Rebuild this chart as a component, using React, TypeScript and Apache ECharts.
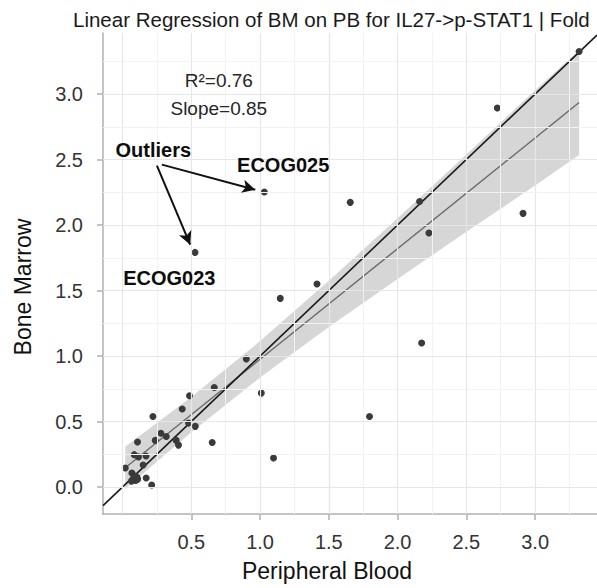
import React, { useEffect, useRef } from "react";
import * as echarts from "echarts";

const FONT = "'Liberation Sans', Arial, Helvetica, sans-serif";

// Axis bounds
const X_MIN = -0.142;
const X_MAX = 3.45;
const Y_MIN = -0.206;
const Y_MAX = 3.466;

// Data points (Peripheral Blood vs Bone Marrow)
const pbValues = [
  3.32, 2.725, 2.16, 2.228, 2.912, 1.656, 1.414, 2.175, 1.796, 1.031,
  0.527, 1.147, 0.9, 1.009, 1.098, 0.667, 0.652, 0.487, 0.434, 0.48,
  0.529, 0.407, 0.39, 0.318, 0.279, 0.238, 0.221, 0.109, 0.085, 0.116,
  0.171, 0.15, 0.02, 0.068, 0.172, 0.212, 0.075, 0.095, 0.105, 0.085,
  0.065, 0.11,
];
const bmValues = [
  3.325, 2.893, 2.18, 1.939, 2.089, 2.173, 1.55, 1.099, 0.539, 2.252,
  1.791, 1.44, 0.977, 0.717, 0.221, 0.76, 0.34, 0.697, 0.595, 0.488,
  0.463, 0.32, 0.356, 0.386, 0.41, 0.356, 0.539, 0.343, 0.247, 0.23,
  0.237, 0.168, 0.145, 0.107, 0.069, 0.015, 0.06, 0.05, 0.075, 0.085,
  0.045, 0.06,
];

// Regression fit line
const fitX = [0.02, 3.32];
const fitY = [0.147, 2.935];

// Identity line (y = x)
const identityX = [X_MIN, X_MAX];

// Confidence band
const bandX = [0.02, 0.5, 1.0, 1.5, 2.0, 2.5, 3.0, 3.32];
const bandLower = [-0.013, 0.418, 0.836, 1.222, 1.588, 1.948, 2.302, 2.535];
const bandUpper = [0.307, 0.688, 1.114, 1.574, 2.052, 2.538, 3.028, 3.335];

// Ticks & grid
const xTickValues = [0.5, 1.0, 1.5, 2.0, 2.5, 3.0];
const yTickValues = [0.0, 0.5, 1.0, 1.5, 2.0, 2.5, 3.0];
const xGridValues = [0, 0.25, 0.5, 0.75, 1, 1.25, 1.5, 1.75, 2, 2.25, 2.5, 2.75, 3, 3.25];
const yGridValues = [0, 0.25, 0.5, 0.75, 1, 1.25, 1.5, 1.75, 2, 2.25, 2.5, 2.75, 3, 3.25];

// Annotations
const statTexts = ["R²=0.76", "Slope=0.85"];
const statX = [0.7, 0.7];
const statY = [3.1, 2.89];
const calloutTexts = ["Outliers", "ECOG025", "ECOG023"];
const calloutX = [0.224, 1.168, 0.34];
const calloutY = [2.575, 2.457, 1.594];
const arrowFrom = [
  [0.286, 2.461],
  [0.25, 2.453],
];
const arrowTo = [
  [0.965, 2.27],
  [0.492, 1.85],
];

const TITLE = "Linear Regression of BM on PB for IL27->p-STAT1 | Fold";
const X_TITLE = "Peripheral Blood";
const Y_TITLE = "Bone Marrow";

export default function App() {
  const ref = useRef<HTMLDivElement>(null);

  useEffect(() => {
    if (!ref.current) return;
    const chart = echarts.init(ref.current, undefined, { renderer: "svg" });

    const isMajor = (v: number) => Math.abs(v * 2 - Math.round(v * 2)) < 1e-6;
    const gridLines: any[] = [
      ...xGridValues.map((v) => ({
        xAxis: v,
        lineStyle: { color: isMajor(v) ? "#e6e6e6" : "#f2f2f2", width: isMajor(v) ? 1.2 : 1, type: "solid" },
      })),
      ...yGridValues.map((v) => ({
        yAxis: v,
        lineStyle: { color: isMajor(v) ? "#e6e6e6" : "#f2f2f2", width: isMajor(v) ? 1.2 : 1, type: "solid" },
      })),
    ];

    const axisCommon = {
      type: "value" as const,
      axisLine: { show: true, onZero: false, lineStyle: { color: "#b0b0b0", width: 1.5 } },
      axisTick: { show: true, length: 6, lineStyle: { color: "#b0b0b0", width: 1.5 } },
      splitLine: { show: false },
    };

    const option: any = {
      animation: false,
      backgroundColor: "#ffffff",
      title: {
        text: TITLE,
        left: 68,
        top: 4,
        textStyle: { fontFamily: FONT, fontSize: 20.5, fontWeight: "normal", color: "#1a1a1a" },
      },
      grid: { left: 103, right: 0, top: 33, bottom: 74, containLabel: false, outerBoundsMode: "none" },
      xAxis: {
        ...axisCommon,
        min: X_MIN,
        max: X_MAX,
        axisTick: { ...axisCommon.axisTick, customValues: xTickValues },
        axisLabel: {
          customValues: xTickValues,
          formatter: (v: number) => v.toFixed(1),
          fontFamily: FONT,
          fontSize: 20,
          color: "#333333",
          margin: 18,
        },
      },
      yAxis: {
        ...axisCommon,
        min: Y_MIN,
        max: Y_MAX,
        axisTick: { ...axisCommon.axisTick, customValues: yTickValues },
        axisLabel: {
          customValues: yTickValues,
          formatter: (v: number) => v.toFixed(1),
          fontFamily: FONT,
          fontSize: 20,
          color: "#333333",
          margin: 20,
        },
      },
      graphic: [
        {
          type: "text",
          x: 327,
          y: 571,
          style: {
            text: X_TITLE,
            fontFamily: FONT,
            fontSize: 23,
            fill: "#111",
            align: "center",
            verticalAlign: "middle",
          },
        },
        {
          type: "text",
          x: 23,
          y: 287,
          rotation: Math.PI / 2,
          style: {
            text: Y_TITLE,
            fontFamily: FONT,
            fontSize: 23,
            fill: "#111",
            align: "center",
            verticalAlign: "middle",
          },
        },
      ],
      series: [
        {
          type: "scatter",
          name: "gridlines",
          data: [[X_MIN, Y_MIN]],
          symbolSize: 0,
          silent: true,
          z: 0,
          markLine: {
            silent: true,
            symbol: ["none", "none"],
            label: { show: false },
            data: gridLines,
          },
        },
        {
          type: "custom",
          name: "band",
          silent: true,
          z: 1,
          data: bandX.map((x, i) => [x, bandLower[i], bandUpper[i]]),
          encode: { x: 0, y: [1, 2] },
          renderItem: (params: any, api: any) => {
            if (params.dataIndex !== 0) return null;
            const up = bandX.map((x, i) => api.coord([x, bandUpper[i]]));
            const lo = bandX.map((x, i) => api.coord([x, bandLower[i]])).reverse();
            return {
              type: "polygon",
              shape: { points: [...up, ...lo] },
              style: { fill: "#d6d6d6" },
            };
          },
        },
        {
          type: "line",
          name: "fit",
          data: fitX.map((x, i) => [x, fitY[i]]),
          symbol: "none",
          silent: true,
          z: 2,
          lineStyle: { color: "#6a6a6a", width: 1.4 },
        },
        {
          type: "line",
          name: "identity",
          data: identityX.map((x) => [x, x]),
          symbol: "none",
          silent: true,
          clip: true,
          z: 3,
          lineStyle: { color: "#1a1a1a", width: 1.6 },
        },
        {
          type: "scatter",
          name: "samples",
          data: pbValues.map((x, i) => [x, bmValues[i]]),
          symbolSize: 7,
          z: 4,
          itemStyle: { color: "#3a3a3a", opacity: 1 },
        },
        {
          type: "scatter",
          name: "stats",
          z: 5,
          symbolSize: 1,
          silent: true,
          itemStyle: { color: "rgba(0,0,0,0)", opacity: 1 },
          data: statTexts.map((t, i) => ({ name: t, value: [statX[i], statY[i]] })),
          label: {
            show: true,
            position: "inside",
            formatter: (p: any) => p.name,
            fontFamily: FONT,
            fontSize: 19,
            color: "#262626",
          },
        },
        {
          type: "scatter",
          name: "callouts",
          z: 5,
          symbolSize: 1,
          silent: true,
          itemStyle: { color: "rgba(0,0,0,0)", opacity: 1 },
          data: calloutTexts.map((t, i) => ({ name: t, value: [calloutX[i], calloutY[i]] })),
          label: {
            show: true,
            position: "inside",
            formatter: (p: any) => p.name,
            fontFamily: FONT,
            fontSize: 20,
            fontWeight: "bold",
            color: "#0d0d0d",
          },
        },
        {
          type: "line",
          name: "arrows",
          data: [],
          z: 6,
          silent: true,
          markLine: {
            silent: true,
            symbol: ["none", "arrow"],
            symbolSize: [10, 13],
            label: { show: false },
            lineStyle: { color: "#111", width: 2, type: "solid" },
            data: arrowFrom.map((f, i) => [{ coord: f }, { coord: arrowTo[i] }]),
          },
        },
      ],
    };

    chart.setOption(option);
    return () => chart.dispose();
  }, []);

  return <div ref={ref} style={{ width: 597, height: 588, position: "absolute", left: 0, top: 0 }} />;
}
